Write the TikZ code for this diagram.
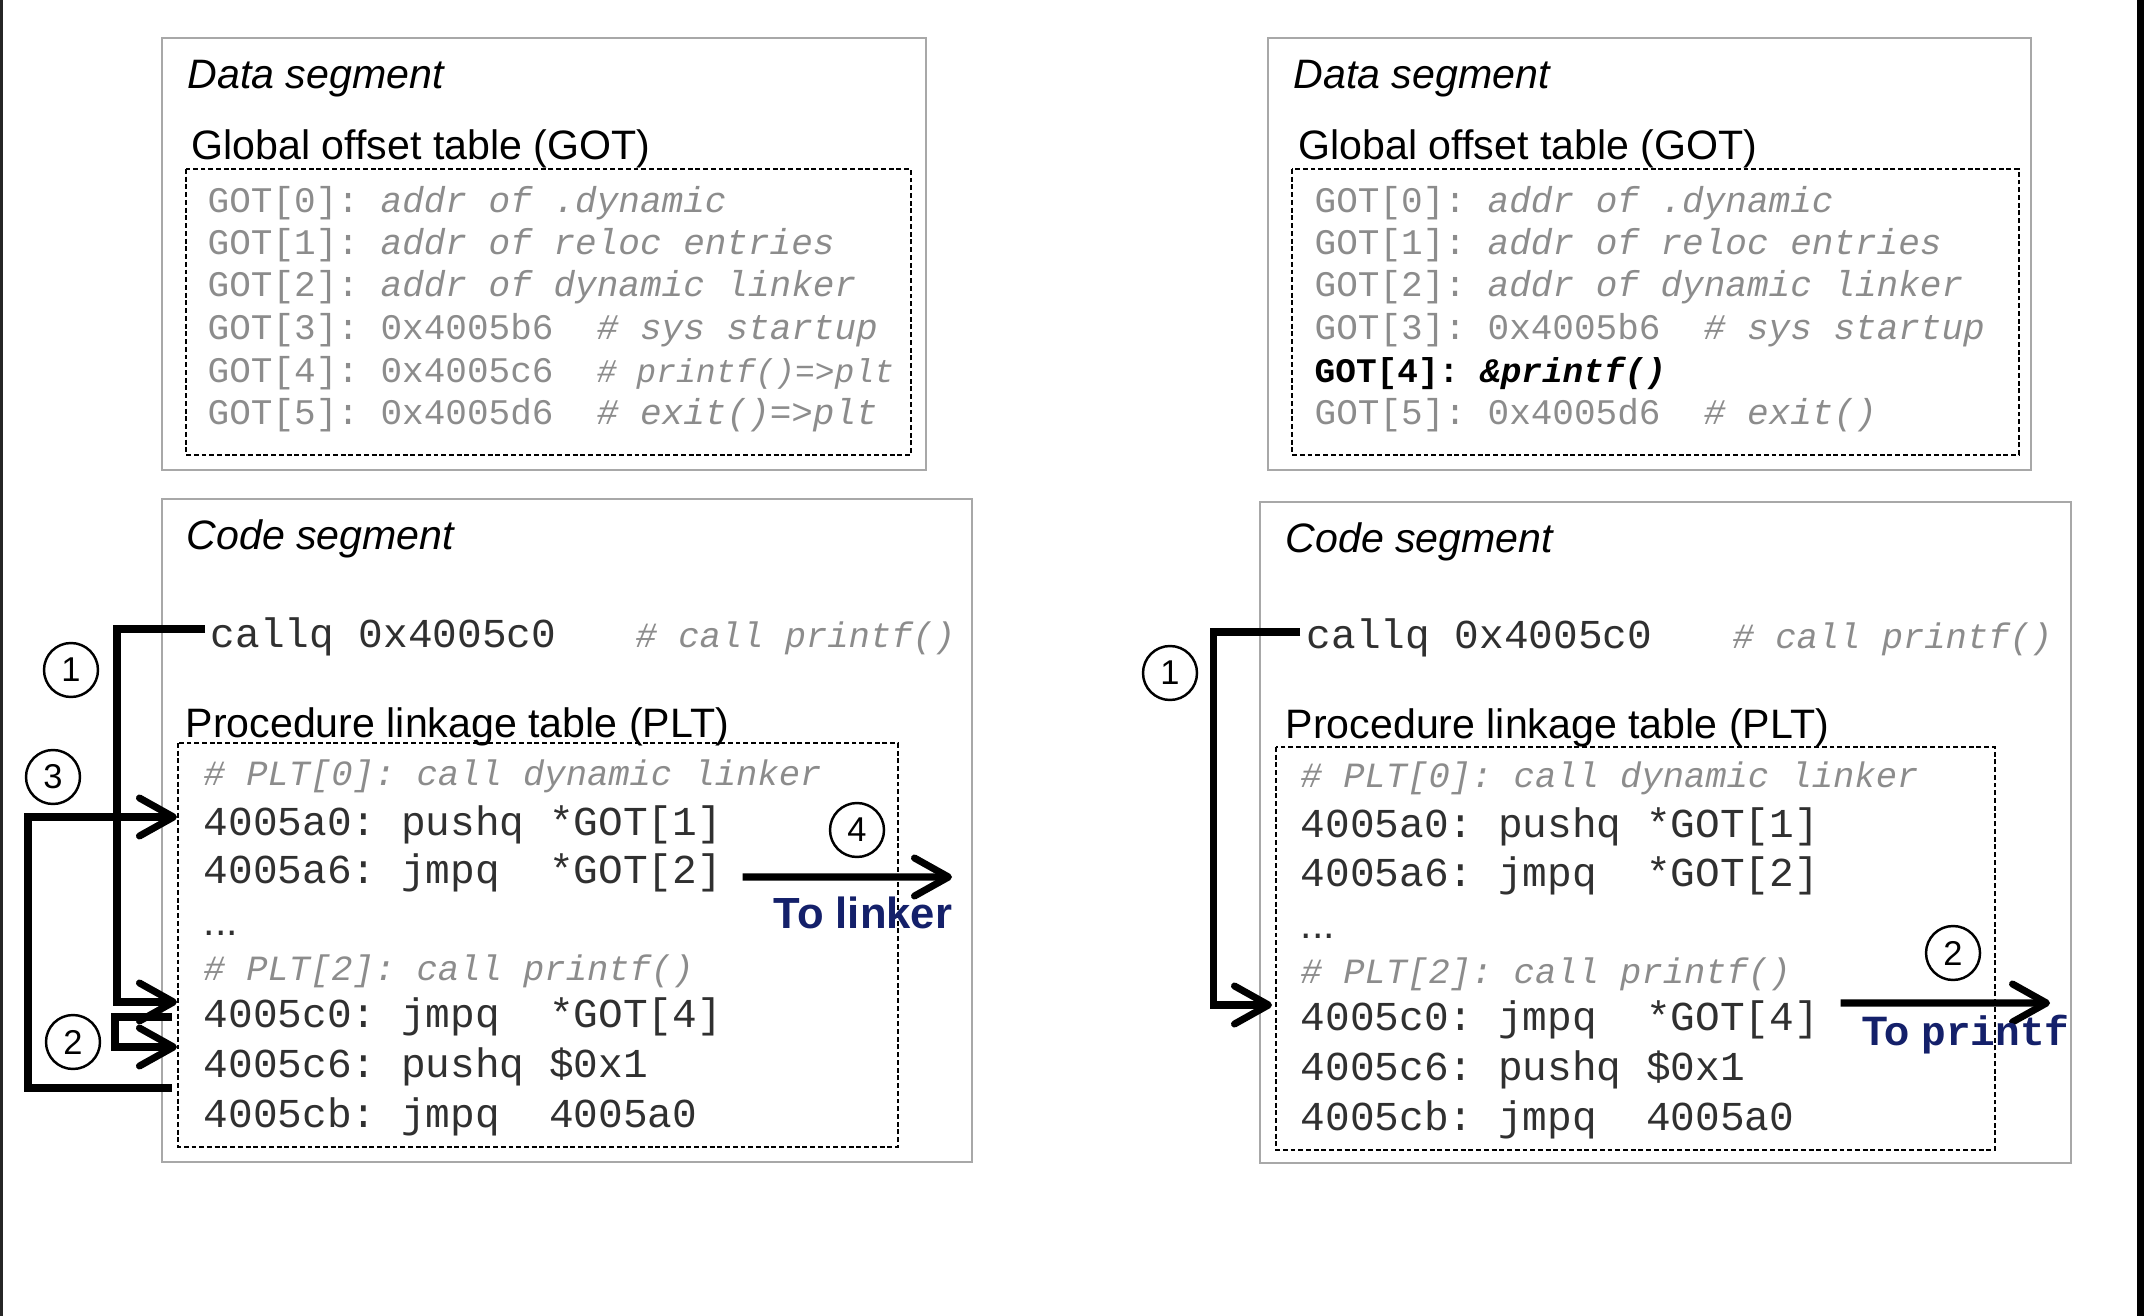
\documentclass[tikz,border=0pt]{standalone}
\usepackage{fontspec}
\setmainfont{Liberation Sans}
\setmonofont{Liberation Mono}
\definecolor{navy}{HTML}{14206A}
\definecolor{dimtext}{HTML}{8C8C8C}
\definecolor{codetext}{HTML}{303030}
\definecolor{framegray}{HTML}{A8A8A8}
\usetikzlibrary{calc, positioning, arrows.meta}

\tikzset{
  segbox/.style={draw=framegray, line width=0.7pt},
  tablebox/.style={draw=black, line width=0.8pt, dash pattern=on 1.4pt off 0.8pt},
  seglabel/.style={anchor=base west, inner sep=0, font=\fontsize{11.7}{14}\selectfont\itshape},
  tabtitle/.style={anchor=base west, inner sep=0, font=\fontsize{11.7}{14}\selectfont},
  gotline/.style={anchor=base west, inner sep=0, text=dimtext, font=\fontsize{10.25}{12}\selectfont\ttfamily},
  codeline/.style={anchor=base west, inner sep=0, text=codetext, font=\fontsize{11.7}{14}\selectfont\ttfamily},
  remark/.style={anchor=base west, inner sep=0, text=dimtext, font=\fontsize{10.1}{12}\selectfont\ttfamily\itshape},
  stepnum/.style={circle, draw, line width=0.7pt, minimum size=5.4mm, inner sep=0, font=\fontsize{9.8}{10}\selectfont},
  flow/.style={line width=2pt, -{Straight Barb[length=3.4mm,width=3.8mm,round]}},
  target/.style={anchor=base west, inner sep=0, text=navy, font=\fontsize{12.4}{14}\selectfont\bfseries},
}

\begin{document}
\begin{tikzpicture}[x=0.1mm, y=-0.1mm]
  \useasboundingbox (0,0) rectangle (2144,1316);
  \fill[black!85] (0,0) rectangle (3,1316);
  \fill[black] (2137,0) rectangle (2144,1316);

  \draw[segbox] (162,38) rectangle (926,470);
  \node[seglabel] (dataL) at (187,89) {Data segment};
  \node[tabtitle] (gotL) at (191,160) {Global offset table (GOT)};
  \draw[tablebox] (186,169) rectangle (911,455);
  \node[gotline] (g0L) at (207,213) {GOT[0]: \textit{addr of .dynamic}};
  \node[gotline] (g1L) at (207,255) {GOT[1]: \textit{addr of reloc entries}};
  \node[gotline] (g2L) at (207,297) {GOT[2]: \textit{addr of dynamic linker}};
  \node[gotline] (g3L) at (207,340) {GOT[3]: 0x4005b6~~\textit{\# sys startup}};
  \node[gotline] (g4L) at (207,383) {GOT[4]: 0x4005c6~~{\fontsize{9.4}{12}\selectfont\itshape\# printf()=>plt}};
  \node[gotline] (g5L) at (207,425) {GOT[5]: 0x4005d6~~\textit{\# exit()=>plt}};

  \draw[segbox] (162,499) rectangle (972,1162);
  \node[seglabel] (codeL) at (186,550) {Code segment};
  \node[codeline] (callL) at (210,647) {callq 0x4005c0};
  \node[remark] (callremL) at (635,647) {\# call printf()};
  \node[tabtitle] (pltL) at (185,737) {Procedure linkage table (PLT)};
  \draw[tablebox] (178,743) rectangle (898,1147);
  \node[remark] (p0L) at (203,785) {\# PLT[0]: call dynamic linker};
  \node[codeline] (a0L) at (203,835) {4005a0: pushq *GOT[1]};
  \node[codeline] (a6L) at (203,883) {4005a6: jmpq~~*GOT[2]};
  \node[tabtitle, text=codetext] (dotsL) at (203,935) {...};
  \node[remark] (p2L) at (203,980) {\# PLT[2]: call printf()};
  \node[codeline] (c0L) at (203,1027) {4005c0: jmpq~~*GOT[4]};
  \node[codeline] (c6L) at (203,1077) {4005c6: pushq \$0x1};
  \node[codeline] (cbL) at (203,1127) {4005cb: jmpq~~4005a0};

  \node[stepnum] (n1L) at (71,670) {1};
  \node[stepnum] (n3L) at (53,777) {3};
  \node[stepnum] (n2L) at (73,1042) {2};
  \node[stepnum] (n4L) at (857,830) {4};

  \coordinate (e1L) at (177,1002);
  \coordinate (e2L) at (177,1047);
  \coordinate (e3L) at (177,817);
  \coordinate (e4L) at (952,877);
  \draw[flow] ([shift={(-0.5mm,1.8mm)}]callL.base west) -| ([xshift=-6mm]e1L) -- (e1L);
  \draw[flow] ([shift={(-3.1mm,1mm)}]c0L.base west) -| ([xshift=-6.2mm]e2L) -- (e2L);
  \draw[flow] ([shift={(-3.1mm,3.9mm)}]cbL.base west) -| ([xshift=-14.9mm]e3L) -- (e3L);
  \draw[flow] ([shift={(2mm,0.6mm)}]a6L.base east) -- (e4L);
  \node[target] (toL) at (773,928) {To linker};

  \draw[segbox] (1268,38) rectangle (2031,470);
  \node[seglabel] (dataR) at (1293,89) {Data segment};
  \node[tabtitle] (gotR) at (1298,160) {Global offset table (GOT)};
  \draw[tablebox] (1292,169) rectangle (2019,455);
  \node[gotline] (g0R) at (1314,213) {GOT[0]: \textit{addr of .dynamic}};
  \node[gotline] (g1R) at (1314,255) {GOT[1]: \textit{addr of reloc entries}};
  \node[gotline] (g2R) at (1314,297) {GOT[2]: \textit{addr of dynamic linker}};
  \node[gotline] (g3R) at (1314,340) {GOT[3]: 0x4005b6~~\textit{\# sys startup}};
  \node[gotline, text=black, font=\fontsize{9.8}{12}\selectfont\ttfamily\bfseries] (g4R) at (1314,383) {GOT[4]: \textit{\&printf()}};
  \node[gotline] (g5R) at (1314,425) {GOT[5]: 0x4005d6~~\textit{\# exit()}};

  \draw[segbox] (1260,502) rectangle (2071,1163);
  \node[seglabel] (codeR) at (1285,552) {Code segment};
  \node[codeline] (callR) at (1306,648) {callq 0x4005c0};
  \node[remark] (callremR) at (1732,648) {\# call printf()};
  \node[tabtitle] (pltR) at (1285,738) {Procedure linkage table (PLT)};
  \draw[tablebox] (1276,747) rectangle (1995,1150);
  \node[remark] (p0R) at (1300,787) {\# PLT[0]: call dynamic linker};
  \node[codeline] (a0R) at (1300,837) {4005a0: pushq *GOT[1]};
  \node[codeline] (a6R) at (1300,886) {4005a6: jmpq~~*GOT[2]};
  \node[tabtitle, text=codetext] (dotsR) at (1300,938) {...};
  \node[remark] (p2R) at (1300,983) {\# PLT[2]: call printf()};
  \node[codeline] (c0R) at (1300,1030) {4005c0: jmpq~~*GOT[4]};
  \node[codeline] (c6R) at (1300,1080) {4005c6: pushq \$0x1};
  \node[codeline] (cbR) at (1300,1130) {4005cb: jmpq~~4005a0};

  \node[stepnum] (n1R) at (1170,673) {1};
  \node[stepnum] (n2R) at (1953,953) {2};

  \coordinate (e1R) at (1272,1005);
  \coordinate (e2R) at (2050,1003);
  \draw[flow] ([shift={(-0.6mm,1.6mm)}]callR.base west) -| ([xshift=-5.9mm]e1R) -- (e1R);
  \draw[flow] ([shift={(2.1mm,2.7mm)}]c0R.base east) -- (e2R);
  \node[target, font=\fontsize{11.7}{14}\selectfont\bfseries] (toR) at (1862,1045) {To \texttt{printf}};
\end{tikzpicture}
\end{document}
